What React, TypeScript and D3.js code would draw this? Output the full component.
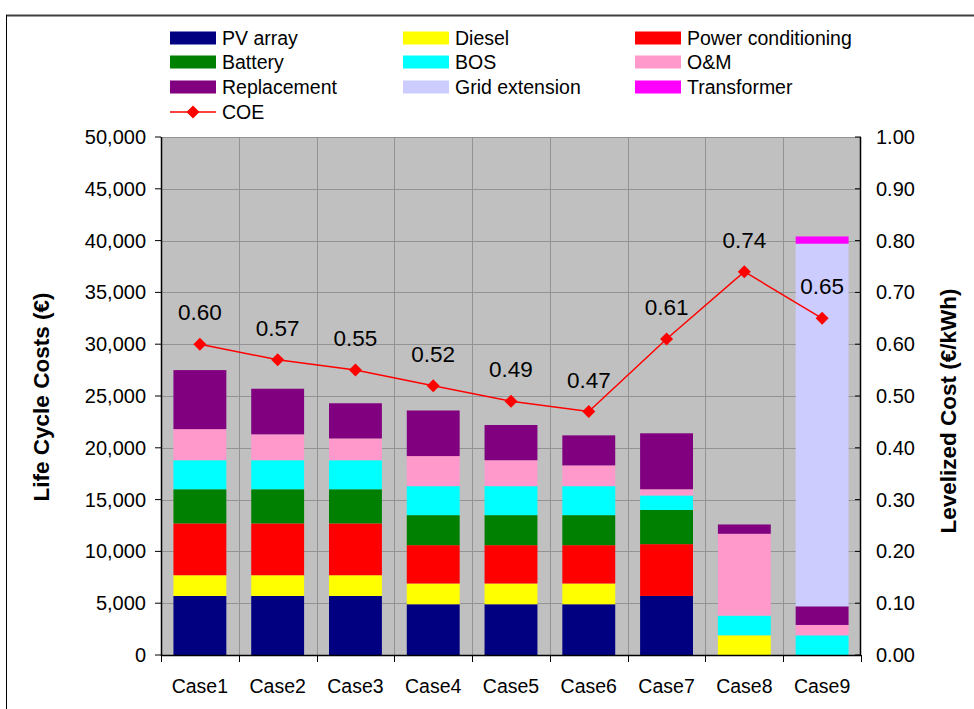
import React from "react";
import * as d3 from "d3";

const categories = ["Case1", "Case2", "Case3", "Case4", "Case5", "Case6", "Case7", "Case8", "Case9"];
const pvArray = [5700, 5700, 5700, 4900, 4900, 4900, 5700, 0, 0];
const diesel = [2000, 2000, 2000, 2000, 2000, 2000, 0, 1900, 0];
const powerConditioning = [5000, 5000, 5000, 3700, 3700, 3700, 5000, 0, 0];
const battery = [3300, 3300, 3300, 2900, 2900, 2900, 3300, 0, 0];
const bos = [2800, 2800, 2800, 2800, 2800, 2800, 1400, 1900, 1900];
const om = [3000, 2500, 2100, 2900, 2500, 2000, 600, 7900, 1000];
const replacement = [5700, 4400, 3400, 4400, 3400, 2900, 5400, 900, 1800];
const gridExtension = [0, 0, 0, 0, 0, 0, 0, 0, 35000];
const transformer = [0, 0, 0, 0, 0, 0, 0, 0, 700];
const coe = [0.60, 0.57, 0.55, 0.52, 0.49, 0.47, 0.61, 0.74, 0.65];
const leftTicks = [0, 5000, 10000, 15000, 20000, 25000, 30000, 35000, 40000, 45000, 50000];
const rightTicks = [0, 0.1, 0.2, 0.3, 0.4, 0.5, 0.6, 0.7, 0.8, 0.9, 1.0];

const seriesNames = ["PV array", "Diesel", "Power conditioning", "Battery", "BOS", "O&M", "Replacement", "Grid extension", "Transformer"];
const seriesValues = [pvArray, diesel, powerConditioning, battery, bos, om, replacement, gridExtension, transformer];
const seriesColors = ["#000080", "#FFFF00", "#FF0000", "#008000", "#00FFFF", "#FF99CC", "#800080", "#CCCCFF", "#FF00FF"];

const FONT = "'Liberation Sans', Arial, sans-serif";

export default function App() {
  const left = 161, right = 861, top = 137, bottom = 655;
  const x = d3.scaleBand<string>().domain(categories).range([left, right]).paddingInner(0.32).paddingOuter(0.16);
  const y = d3.scaleLinear().domain([0, 50000]).range([bottom, top]);
  const y2 = d3.scaleLinear().domain([0, 1]).range([bottom, top]);

  const table = categories.map((c, i) => {
    const row: any = { cat: c };
    seriesNames.forEach((s, k) => (row[s] = seriesValues[k][i]));
    return row;
  });
  const stacked = d3.stack().keys(seriesNames)(table);

  const step = x.step();
  const boundaries = categories.map((_, i) => left + step * i).concat([right]);

  const line = d3.line<number>()
    .x((_, i) => (x(categories[i]) as number) + x.bandwidth() / 2)
    .y((d) => y2(d));

  const fmt = d3.format(",");
  const fmt2 = d3.format(".2f");

  const legendCols = [170, 403, 635];
  const legendRows = [38, 62, 87];

  const diamond = (cx: number, cy: number, r: number) =>
    `M${cx},${cy - r}L${cx + r},${cy}L${cx},${cy + r}L${cx - r},${cy}Z`;

  return (
    <svg width={974} height={709} style={{ position: "absolute", left: 0, top: 0, background: "#fff" }} fontFamily={FONT}>
      <rect x={0} y={0} width={974} height={709} fill="#fff" />
      {/* outer frame */}
      <line x1={6} x2={974} y1={15.5} y2={15.5} stroke="#404040" strokeWidth={2} />
      <line x1={6.5} x2={6.5} y1={15} y2={709} stroke="#000" strokeWidth={1} />

      {/* legend */}
      {seriesNames.map((s, k) => {
        const col = k % 3, row = Math.floor(k / 3);
        const lx = legendCols[col], ly = legendRows[row];
        return (
          <g key={s}>
            <rect x={lx} y={ly - 6.5} width={46} height={13} fill={seriesColors[k]} />
            <text x={lx + 52} y={ly} dy="0.35em" fontSize={19.5} fill="#000">{s}</text>
          </g>
        );
      })}
      <g>
        <line x1={170} x2={216} y1={112} y2={112} stroke="#FF0000" strokeWidth={1.5} />
        <path d={diamond(193, 112, 6.5)} fill="#FF0000" />
        <text x={222} y={112} dy="0.35em" fontSize={19.5} fill="#000">COE</text>
      </g>

      {/* plot area */}
      <rect x={left} y={top} width={right - left} height={bottom - top} fill="#C0C0C0" />
      {leftTicks.map((t) => (
        <line key={"hg" + t} x1={left} x2={right} y1={Math.round(y(t)) + 0.5} y2={Math.round(y(t)) + 0.5} stroke="#939393" strokeWidth={1} />
      ))}
      {boundaries.slice(1, -1).map((bx, i) => (
        <line key={"vg" + i} x1={Math.round(bx) + 0.5} x2={Math.round(bx) + 0.5} y1={top} y2={bottom} stroke="#939393" strokeWidth={1} />
      ))}

      {/* bars */}
      {stacked.map((layer, k) => (
        <g key={layer.key} fill={seriesColors[k]}>
          {layer.map((d, i) =>
            d[1] - d[0] > 0 ? (
              <rect key={i} x={x(categories[i])} width={x.bandwidth()} y={y(d[1])} height={y(d[0]) - y(d[1])} />
            ) : null
          )}
        </g>
      ))}

      {/* axes */}
      <line x1={left + 0.5} x2={left + 0.5} y1={top} y2={bottom + 1} stroke="#000" strokeWidth={1.5} />
      <line x1={right - 0.5} x2={right - 0.5} y1={top} y2={bottom + 1} stroke="#000" strokeWidth={1.5} />
      <line x1={left} x2={right} y1={bottom + 0.5} y2={bottom + 0.5} stroke="#000" strokeWidth={1.5} />
      {leftTicks.map((t) => (
        <g key={"lt" + t}>
          <line x1={left - 6} x2={left} y1={y(t)} y2={y(t)} stroke="#000" strokeWidth={1} />
          <text x={146} y={y(t)} dy="0.35em" textAnchor="end" fontSize={20} fill="#000">{fmt(t)}</text>
        </g>
      ))}
      {rightTicks.map((t) => (
        <g key={"rt" + t}>
          <line x1={right - 6} x2={right} y1={y2(t)} y2={y2(t)} stroke="#000" strokeWidth={1} />
          <text x={876} y={y2(t)} dy="0.35em" textAnchor="start" fontSize={20} fill="#000">{fmt2(t)}</text>
        </g>
      ))}
      {boundaries.map((bx, i) => (
        <line key={"bt" + i} x1={Math.round(bx) + 0.5} x2={Math.round(bx) + 0.5} y1={bottom} y2={bottom + 7} stroke="#000" strokeWidth={1} />
      ))}
      {categories.map((c) => (
        <text key={c} x={(x(c) as number) + x.bandwidth() / 2} y={686} dy="0.35em" textAnchor="middle" fontSize={19.5} fill="#000">{c}</text>
      ))}

      {/* COE line */}
      <path d={line(coe) as string} fill="none" stroke="#FF0000" strokeWidth={1.5} />
      {coe.map((v, i) => {
        const cx = (x(categories[i]) as number) + x.bandwidth() / 2;
        const cy = y2(v);
        return (
          <g key={"p" + i}>
            <path d={diamond(cx, cy, 6.5)} fill="#FF0000" />
            <text x={cx} y={cy - 24} textAnchor="middle" fontSize={22.5} fill="#000">{fmt2(v)}</text>
          </g>
        );
      })}

      {/* axis titles */}
      <text transform="translate(41,397) rotate(-90)" textAnchor="middle" dy="0.35em" fontSize={22.5} fontWeight="bold" fill="#000">Life Cycle Costs (€)</text>
      <text transform="translate(948,411) rotate(-90)" textAnchor="middle" dy="0.35em" fontSize={22.5} fontWeight="bold" fill="#000">Levelized Cost (€/kWh)</text>
    </svg>
  );
}
